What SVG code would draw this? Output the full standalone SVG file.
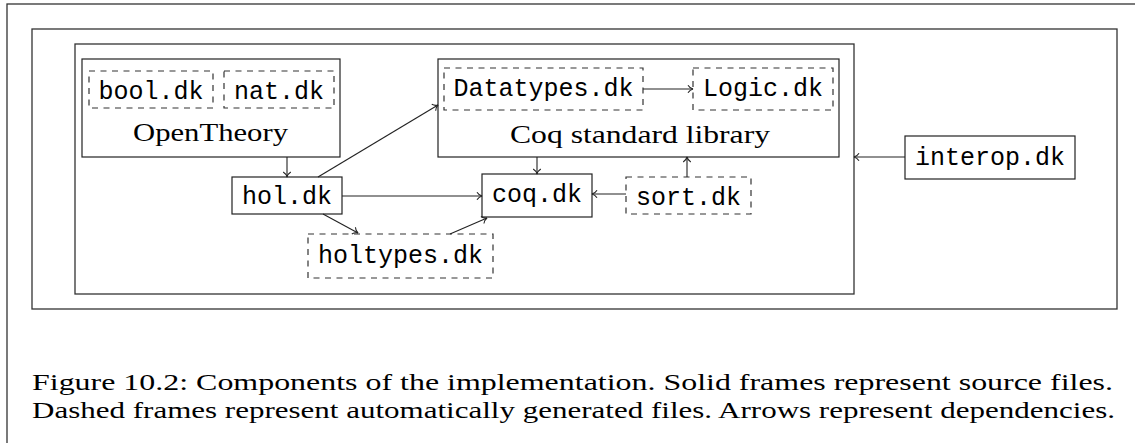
<svg xmlns="http://www.w3.org/2000/svg" width="1135" height="443" viewBox="0 0 1135 443">
<style>
.frame{fill:none;stroke:#333;stroke-width:1.3}
.solid{fill:#fff;stroke:#222;stroke-width:1.2}
.dash{fill:#fff;stroke:#333;stroke-width:1.2;stroke-dasharray:6 5.5}
.tt{font-family:"Liberation Mono","DejaVu Sans Mono",monospace;font-size:25px;fill:#000;text-anchor:middle}
.rm{font-family:"Liberation Serif","DejaVu Serif",serif;font-size:26px;fill:#000}
.cap{font-family:"Liberation Serif","DejaVu Serif",serif;font-size:23px;fill:#000}
.conn{fill:none;stroke:#222;stroke-width:1.1}
</style>
<defs>
<marker id="to" markerUnits="userSpaceOnUse" viewBox="-7 -5 8 10" refX="0" refY="0" markerWidth="8" markerHeight="10" orient="auto">
<path d="M -5 -3.8 C -3.6 -1.6 -1.2 -0.3 0 0 C -1.2 0.3 -3.6 1.6 -5 3.8" fill="none" stroke="#222" stroke-width="1.1"/>
</marker>
</defs>
<rect width="1135" height="443" fill="#fff"/>
<g id="page-frame"><rect class="frame" x="7" y="4" width="1140" height="460"/></g>
<g id="outer-frame"><rect class="frame" x="32" y="29" width="1085" height="280"/></g>
<g id="implementation"><rect class="frame" x="75" y="44" width="779" height="250"/></g>
<g id="opentheory">
<rect class="solid" x="82" y="59" width="258" height="98"/>
<text class="rm" x="133" y="141" textLength="155" lengthAdjust="spacingAndGlyphs">OpenTheory</text>
</g>
<g id="bool"><rect class="dash" x="89" y="71" width="124" height="37"/><text class="tt" x="151" y="99">bool.dk</text></g>
<g id="nat"><rect class="dash" x="224" y="71" width="110" height="37"/><text class="tt" x="279" y="99">nat.dk</text></g>
<g id="coqlib">
<rect class="solid" x="438" y="59" width="401" height="98"/>
<text class="rm" x="510" y="143" textLength="260" lengthAdjust="spacingAndGlyphs">Coq standard library</text>
</g>
<g id="datatypes"><rect class="dash" x="444" y="68" width="199" height="42"/><text class="tt" x="543.5" y="96">Datatypes.dk</text></g>
<g id="logic"><rect class="dash" x="693" y="68" width="140" height="42"/><text class="tt" x="763" y="96">Logic.dk</text></g>
<g id="hol"><rect class="solid" x="232" y="177" width="110" height="37"/><text class="tt" x="287" y="204">hol.dk</text></g>
<g id="coq"><rect class="solid" x="482" y="174" width="110" height="43"/><text class="tt" x="537" y="202">coq.dk</text></g>
<g id="holtypes"><rect class="dash" x="308" y="234" width="185" height="44"/><text class="tt" x="400.5" y="263">holtypes.dk</text></g>
<g id="sort"><rect class="dash" x="626" y="177" width="125" height="37"/><text class="tt" x="688.5" y="205">sort.dk</text></g>
<g id="interop"><rect class="solid" x="905" y="136" width="170" height="43"/><text class="tt" x="990" y="165">interop.dk</text></g>
<g id="connectors">
<path class="conn" marker-end="url(#to)" d="M287 157 L287 177"/>
<path class="conn" marker-end="url(#to)" d="M318 177 L438 105"/>
<path class="conn" marker-end="url(#to)" d="M342 196 L482 196"/>
<path class="conn" marker-end="url(#to)" d="M323 214 L358 233"/>
<path class="conn" marker-end="url(#to)" d="M450 234 L487 218"/>
<path class="conn" marker-end="url(#to)" d="M537 157 L537 174"/>
<path class="conn" marker-end="url(#to)" d="M626 194 L592 194"/>
<path class="conn" marker-end="url(#to)" d="M687 177 L687 157"/>
<path class="conn" marker-end="url(#to)" d="M643 89 L693 89"/>
<path class="conn" marker-end="url(#to)" d="M905 157 L854 157"/>
</g>
<g id="caption">
<text class="cap" x="32" y="390" textLength="1081" lengthAdjust="spacingAndGlyphs">Figure 10.2: Components of the implementation. Solid frames represent source files.</text>
<text class="cap" x="32" y="418" textLength="1083" lengthAdjust="spacingAndGlyphs">Dashed frames represent automatically generated files. Arrows represent dependencies.</text>
</g>
</svg>
